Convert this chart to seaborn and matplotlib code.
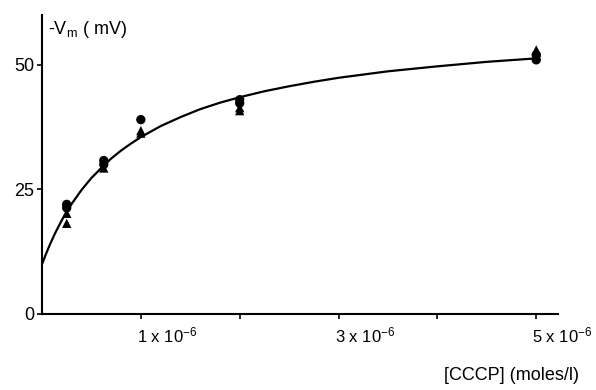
import numpy as np
import pandas as pd
import matplotlib
matplotlib.use("Agg")
import matplotlib.pyplot as plt
import matplotlib.transforms as mtransforms
import seaborn as sns

# ---- data ----
circle_conc = [0.25e-6, 0.25e-6, 0.625e-6, 0.625e-6, 1e-6, 2e-6, 2e-6, 5e-6, 5e-6]
circle_vm = [22.0, 21.3, 30.8, 30.0, 39.0, 43.0, 42.3, 51.0, 52.0]
triangle_conc = [0.25e-6, 0.25e-6, 0.625e-6, 1e-6, 1e-6, 2e-6, 2e-6, 5e-6, 5e-6]
triangle_vm = [20.2, 18.2, 29.3, 36.3, 36.8, 41.4, 40.8, 53.0, 52.5]

# fitted curve at many abscissae
curve_conc = [0.0, 0.01e-6, 0.02e-6, 0.035e-6, 0.05e-6, 0.075e-6, 0.1e-6, 0.125e-6,
              0.15e-6, 0.2e-6, 0.25e-6, 0.3e-6, 0.35e-6, 0.4e-6, 0.5e-6, 0.6e-6,
              0.7e-6, 0.8e-6, 0.9e-6, 1.0e-6, 1.2e-6, 1.4e-6, 1.6e-6, 1.8e-6,
              2.0e-6, 2.25e-6, 2.5e-6, 2.75e-6, 3.0e-6, 3.5e-6, 4.0e-6, 4.5e-6, 5.0e-6]
curve_vm = [10.0, 10.5, 11.0, 11.8, 12.5, 13.7, 14.8, 15.9,
            16.9, 18.8, 20.5, 22.1, 23.5, 24.9, 27.3, 29.3,
            31.2, 32.8, 34.2, 35.5, 37.7, 39.5, 41.1, 42.4,
            43.5, 44.7, 45.7, 46.6, 47.4, 48.7, 49.7, 50.6, 51.3]

xtick_pos = [1e-6, 2e-6, 3e-6, 4e-6, 5e-6]
xtick_labels = ["1 x 10$^{-6}$", "", "3 x 10$^{-6}$", "", "5 x 10$^{-6}$"]
ytick_pos = [0, 25, 50]
ytick_labels = ["0", "25", "50"]

points = pd.DataFrame({
    "conc": circle_conc + triangle_conc,
    "vm": circle_vm + triangle_vm,
    "kind": ["circle"] * len(circle_conc) + ["triangle"] * len(triangle_conc),
})
curve = pd.DataFrame({"conc": curve_conc, "vm": curve_vm})

sns.set_theme(style="ticks")
plt.rcParams["font.family"] = ["Liberation Sans", "DejaVu Sans"]
plt.rcParams["mathtext.default"] = "regular"

fig = plt.figure(figsize=(5.96, 3.90), dpi=100)
ax = fig.add_axes([42 / 596, 1 - 314 / 390, (558 - 42) / 596, (314 - 15) / 390])

sns.lineplot(data=curve, x="conc", y="vm", ax=ax, color="black", lw=1.6, sort=False)
sns.scatterplot(data=points, x="conc", y="vm", style="kind",
                markers={"circle": "o", "triangle": "^"}, color="black",
                s=45, edgecolor="black", linewidth=0, ax=ax, legend=False, zorder=3)

ax.set_xlim(0, 5.22e-6)
ax.set_ylim(0, 60)
sns.despine(ax=ax)
for s in ["left", "bottom"]:
    ax.spines[s].set_linewidth(1.5)
    ax.spines[s].set_color("black")

ax.set_xticks(xtick_pos)
ax.set_xticklabels(xtick_labels, fontsize=12, ha="left")
ax.set_yticks(ytick_pos)
ax.set_yticklabels(ytick_labels, fontsize=13)
ax.tick_params(axis="both", direction="out", length=3.5, width=1.2, color="black",
               labelcolor="black")
ax.tick_params(axis="x", pad=5)
ax.tick_params(axis="y", pad=2)
off = mtransforms.ScaledTranslation(-4 / 100, 0, fig.dpi_scale_trans)
for lab in ax.get_xticklabels():
    lab.set_transform(lab.get_transform() + off)

ax.set_xlabel("")
ax.set_ylabel("")
ax.text(0.012, 0.95, "-V$_m$ ( mV)", transform=ax.transAxes, fontsize=13,
        ha="left", va="center", color="black")
fig.text(512 / 596, 1 - 375 / 390, "[CCCP] (moles/l)", fontsize=13,
         ha="center", va="center", color="black")

fig.savefig("out.png", dpi=100)
